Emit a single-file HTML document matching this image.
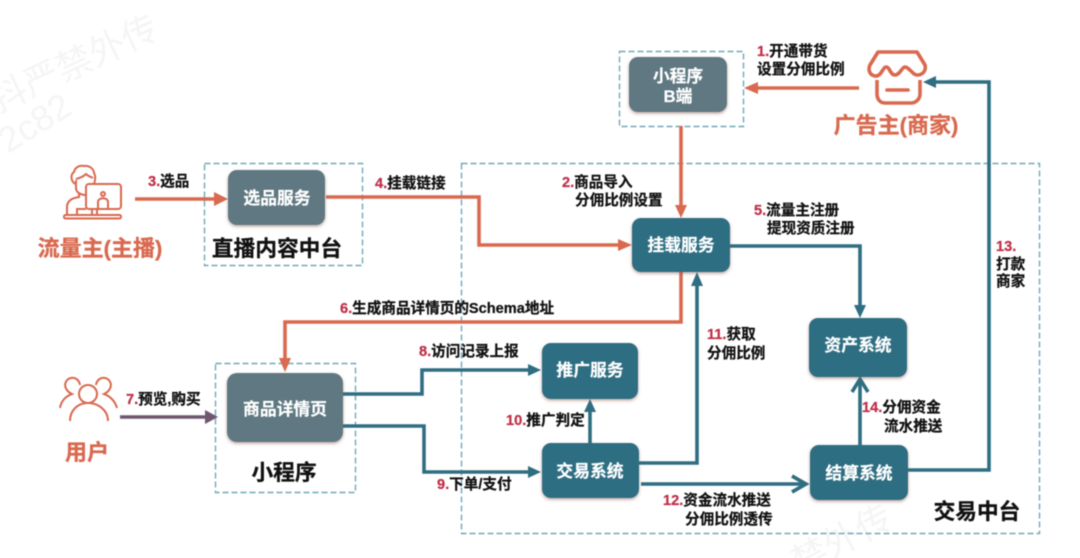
<!DOCTYPE html>
<html><head><meta charset="utf-8"><style>
html,body{margin:0;padding:0;background:#fff;width:1080px;height:558px;overflow:hidden}
svg{display:block;filter:blur(.5px)}
text{font-family:"Liberation Sans","Noto Sans CJK SC",sans-serif;font-weight:700}
.l{font-size:14.6px;fill:#111;stroke:#111;stroke-width:.25}
.n{fill:#bf3049;stroke:#bf3049}
.w{font-size:16.8px;fill:#fff;text-anchor:middle;stroke:#fff;stroke-width:.2}
.t{font-size:21.7px;fill:#111;text-anchor:middle;stroke:#111;stroke-width:.3}
.o{font-size:22px;fill:#d9694f;text-anchor:middle;stroke:#d9694f;stroke-width:.3}
.d{fill:none;stroke:#6fa9b8;stroke-width:1.4;stroke-dasharray:6 3}
.a{fill:none;stroke:#2f6e82;stroke-width:3.6;stroke-linejoin:miter}
.r{fill:none;stroke:#d9694f;stroke-width:3.6}
.ic{fill:none;stroke:#d9694f;stroke-width:2}
.wm{font-size:36px;fill:#f5f5f5;font-weight:400}
</style></head><body>
<svg width="1080" height="558" viewBox="0 0 1080 558" xmlns="http://www.w3.org/2000/svg">
<defs><filter id="s" x="-10%" y="-10%" width="120%" height="125%"><feDropShadow dx="0" dy="1.5" stdDeviation="1.5" flood-color="#8a5a50" flood-opacity=".55"/></filter></defs>
<rect width="1080" height="558" fill="#fff"/>
<text class="wm" transform="translate(-2,113) rotate(-25)">抖严禁外传</text>
<text class="wm" transform="translate(8,154) rotate(-32)">2c82</text>
<text class="wm" transform="translate(800,576) rotate(-28)">禁外传</text>

<rect class="d" x="619.5" y="51.5" width="124" height="75"/>
<rect class="d" x="204.5" y="163.5" width="158" height="102"/>
<rect class="d" x="461.5" y="163.5" width="578" height="370"/>
<rect class="d" x="215.5" y="363.5" width="140" height="129"/>

<!-- connectors -->
<path class="r" d="M135 199H216"/><path d="M214 192L228 199L214 206Z" fill="#d9694f"/>
<path class="r" d="M326 197H479V245H620"/><path d="M618 239L632 245L618 251Z" fill="#d9694f"/>
<path class="r" d="M859 88H757"/><path d="M758 82L744 88L758 94Z" fill="#d9694f"/>
<path class="r" d="M681 126V206"/><path d="M675 205L681 218L687 205Z" fill="#d9694f"/>
<path class="r" d="M681 271V322H285V360"/><path d="M279 358L285 372L291 358Z" fill="#d9694f"/>
<path d="M120 417H205" fill="none" stroke="#6f5770" stroke-width="3.6"/><path d="M205 410L218 417L205 424Z" fill="#6f5770"/>
<path class="a" d="M343 394H422V370H530"/><path d="M528 364L541 370L528 376Z" fill="#2f6e82"/>
<path class="a" d="M343 426H424V472H530"/><path d="M528 466L541 472L528 478Z" fill="#2f6e82"/>
<path class="a" d="M590 443V410"/><path d="M584 412L590 399L596 412Z" fill="#2f6e82"/>
<path class="a" d="M639 463H697V285"/><path d="M691 286L697 272L703 286Z" fill="#2f6e82"/>
<path class="a" d="M641 484H803"/><path d="M792 476L806 484L792 492" fill="none" stroke="#2f6e82" stroke-width="3.6"/>
<path class="a" d="M860 445V381"/><path d="M852 392L860 379L868 392" fill="none" stroke="#2f6e82" stroke-width="3.6"/>
<path class="a" d="M730 246H860V306"/><path d="M854 305L860 318L866 305Z" fill="#2f6e82"/>
<path class="a" d="M908 470H989V82H934"/><path d="M936 76L923 82L936 88Z" fill="#2f6e82"/>

<!-- nodes -->
<g filter="url(#s)">
<rect x="629" y="57" width="98" height="55" rx="9" fill="#5f7881"/>
<rect x="228" y="170" width="97" height="55" rx="9" fill="#5f7881"/>
<rect x="227" y="373" width="116" height="69" rx="10" fill="#5f7881"/>
<rect x="632" y="218" width="98" height="54" rx="9" fill="#2f6e82"/>
<rect x="809" y="318" width="98" height="59" rx="9" fill="#2f6e82"/>
<rect x="542" y="343" width="96" height="56" rx="9" fill="#2f6e82"/>
<rect x="542" y="443" width="97" height="55" rx="9" fill="#2f6e82"/>
<rect x="810" y="445" width="98" height="55" rx="9" fill="#2f6e82"/>
</g>
<text class="w" x="678" y="82">小程序</text><text class="w" x="678" y="102">B端</text>
<text class="w" x="277" y="204">选品服务</text>
<text class="w" x="285" y="415">商品详情页</text>
<text class="w" x="681" y="251">挂载服务</text>
<text class="w" x="858" y="351">资产系统</text>
<text class="w" x="590" y="376">推广服务</text>
<text class="w" x="590" y="477">交易系统</text>
<text class="w" x="859" y="479">结算系统</text>

<!-- titles -->
<text class="t" x="277" y="256">直播内容中台</text>
<text class="t" x="284" y="480">小程序</text>
<text class="t" x="977" y="519">交易中台</text>
<text class="o" x="100" y="256">流量主(主播)</text>
<text class="o" x="87" y="460">用户</text>
<text class="o" x="896" y="133">广告主(商家)</text>

<!-- labels -->
<text class="l" x="148" y="186"><tspan class="n">3.</tspan>选品</text>
<text class="l" x="375" y="188"><tspan class="n">4.</tspan>挂载链接</text>
<text class="l" x="757" y="56"><tspan class="n">1.</tspan>开通带货</text>
<text class="l" x="757" y="74">设置分佣比例</text>
<text class="l" x="562" y="187"><tspan class="n">2.</tspan>商品导入</text>
<text class="l" x="575" y="205">分佣比例设置</text>
<text class="l" x="754" y="215"><tspan class="n">5.</tspan>流量主注册</text>
<text class="l" x="767" y="233">提现资质注册</text>
<text class="l" x="340" y="313"><tspan class="n">6.</tspan>生成商品详情页的Schema地址</text>
<text class="l" x="126" y="404"><tspan class="n">7.</tspan>预览,购买</text>
<text class="l" x="419" y="356"><tspan class="n">8.</tspan>访问记录上报</text>
<text class="l" x="437" y="489"><tspan class="n">9.</tspan>下单/支付</text>
<text class="l" x="506" y="425"><tspan class="n">10.</tspan>推广判定</text>
<text class="l" x="707" y="339"><tspan class="n">11.</tspan>获取</text>
<text class="l" x="707" y="358">分佣比例</text>
<text class="l" x="663" y="505"><tspan class="n">12.</tspan>资金流水推送</text>
<text class="l" x="685" y="524">分佣比例透传</text>
<text class="l" x="996" y="251"><tspan class="n">13.</tspan></text>
<text class="l" x="996" y="269">打款</text>
<text class="l" x="996" y="286">商家</text>
<text class="l" x="862" y="412"><tspan class="n">14.</tspan>分佣资金</text>
<text class="l" x="884" y="431">流水推送</text>

<!-- streamer icon -->
<g class="ic">
<path d="M75 184C70 180 71 174 74 172C75 167 80 165 84 166C89 165 94 169 94 173C96 176 95 181 94 184"/>
<path d="M76 179C80 178 84 176 86 174C88 176 91 177 93 178"/>
<path d="M76 180V188C76 192 80 195 86 195"/>
<path d="M79 194V197C72 198 67 201 67 207V215"/>
<rect x="86" y="184" width="35" height="25" rx="3" fill="#fff"/>
<circle cx="103" cy="194" r="2"/>
<path d="M98 209V202C98 197 108 197 108 202V209"/>
<path d="M77 215V209H86M92 209V215M97 209V215"/>
<rect x="64" y="215" width="57" height="3.5" rx="1.5"/>
</g>
<!-- merchant icon -->
<g fill="none" stroke="#d9694f" stroke-width="3.6">
<path d="M878 52H917L925 65C927 73 918 78 913 73C909 69 907 67 905 67C902 67 900 75 895 75C890 75 890 67 886 67C883 67 881 77 875 76C869 75 868 69 870 65Z" stroke-linejoin="round"/>
<path d="M877 80V94C877 99 880 103 885 103H911C916 103 920 99 920 94V80"/>
<path d="M887 90H908" stroke-linecap="round"/>
</g>
<!-- users icon -->
<g class="ic">
<circle cx="88" cy="394" r="9"/>
<path d="M70 421C70 410 78 403 88 403C98 403 108 410 108 421"/>
<path d="M80 385C79 379 74 377 71 378C66 379 63 385 67 390C68 392 70 393 72 394C66 396 61 401 60 408"/>
<path d="M96 385C97 379 102 377 105 378C110 379 113 385 109 390C108 392 106 393 104 394C110 396 115 401 117 408"/>
</g>
</svg>
</body></html>
